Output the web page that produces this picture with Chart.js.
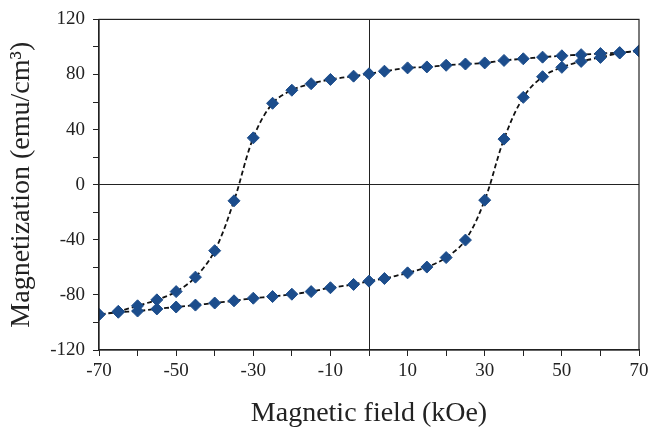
<!DOCTYPE html>
<html>
<head>
<meta charset="utf-8">
<script src="https://cdn.jsdelivr.net/npm/chart.js@4.4.0/dist/chart.umd.min.js"></script>
<style>
html,body{margin:0;padding:0;background:#fff;}
#wrap{width:661px;height:438px;}
</style>
</head>
<body>
<div id="wrap"><canvas id="c" width="661" height="438"></canvas></div>
<script>
// Descending branch (field from +70 to -70)
const upperField = [70,65,60,55,50,45,40,35,30,25,20,15,10,4,0,-4,-10,-15,-20,-25,-30,-35,-40,-45,-50,-55,-60,-65,-70];
const upperMag   = [97.1,95.9,95.2,94.4,93.6,92.6,91.4,90.2,88.4,87.6,86.7,85.5,84.8,82.4,80.5,78.8,76.4,73.3,68.6,59.1,34,-11.7,-47.9,-67.1,-77.6,-83.6,-87.9,-91.9,-94.3];
// Ascending branch (field from -70 to +70)
const lowerField = [-70,-65,-60,-55,-50,-45,-40,-35,-30,-25,-20,-15,-10,-4,0,4,10,15,20,25,30,35,40,45,50,55,60,65,70];
const lowerMag   = [-94.3,-92.6,-91.7,-90.2,-88.8,-87.4,-85.9,-84.3,-82.4,-81.2,-79.5,-77.6,-74.8,-72.4,-70,-68.1,-64,-59.8,-52.9,-40.2,-11.2,33.1,63.4,78.4,85.2,89.5,92.4,95.6,97.1];
const xTickLabels = [-70,-50,-30,-10,10,30,50,70];
const yTickLabels = [-120,-80,-40,0,40,80,120];

const loop = upperField.map((x,i)=>({x:x,y:upperMag[i]}))
  .concat(lowerField.map((x,i)=>({x:x,y:lowerMag[i]})));

const boxPlugin = {
  id:'box',
  afterDatasetsDraw(chart){
    const a = chart.chartArea, ctx = chart.ctx;
    ctx.save();
    ctx.strokeStyle = '#222';
    ctx.lineWidth = 1.2;
    ctx.strokeRect(a.left, a.top, a.right - a.left, a.bottom - a.top);
    ctx.restore();
  }
};

const FONT = "'Liberation Serif', 'Times New Roman', serif";
const PAD = {left:0, right:22, top:14, bottom:0};

new Chart(document.getElementById('c'), {
  type:'scatter',
  data:{datasets:[{
    data: loop,
    showLine:true,
    tension:0.35,
    borderColor:'#111',
    borderWidth:1.8,
    borderDash:[5,3],
    pointStyle:'rectRot',
    pointRadius:6,
    pointBackgroundColor:'#1c4d8c',
    pointBorderColor:'#1c4d8c',
    pointBorderWidth:1
  }]},
  options:{
    responsive:false,
    animation:false,
    layout:{padding:PAD},
    plugins:{legend:{display:false}, tooltip:{enabled:false}},
    scales:{
      x:{
        type:'linear', min:-70, max:70,
        afterFit(s){ s.height = 438 - 350 - PAD.bottom; },
        ticks:{
          stepSize:10, autoSkip:false, maxRotation:0, padding:4,
          color:'#222', font:{family:FONT, size:19},
          callback:v => xTickLabels.includes(v) ? String(v) : ''
        },
        grid:{
          color:c => (c.tick && c.tick.value === 0) ? '#222' : 'rgba(0,0,0,0)',
          lineWidth:1, tickColor:'#222', tickLength:6, drawTicks:true
        },
        border:{display:true, color:'#222', width:1.2},
        title:{display:true, text:'Magnetic field (kOe)', color:'#222',
          font:{family:FONT, size:28}, padding:{top:0,bottom:8}}
      },
      y:{
        type:'linear', min:-120, max:120,
        afterFit(s){ s.width = 99 - PAD.left; },
        ticks:{
          stepSize:20, autoSkip:false, padding:8,
          color:'#222', font:{family:FONT, size:19},
          callback:v => yTickLabels.includes(v) ? String(v) : ''
        },
        grid:{
          color:c => (c.tick && c.tick.value === 0) ? '#222' : 'rgba(0,0,0,0)',
          lineWidth:1, tickColor:'#222', tickLength:6, drawTicks:true
        },
        border:{display:true, color:'#222', width:1.2},
        title:{display:true, text:'Magnetization (emu/cm³)', color:'#222',
          font:{family:FONT, size:28}, padding:{top:5,bottom:0}}
      }
    }
  },
  plugins:[boxPlugin]
});
</script>
</body>
</html>
